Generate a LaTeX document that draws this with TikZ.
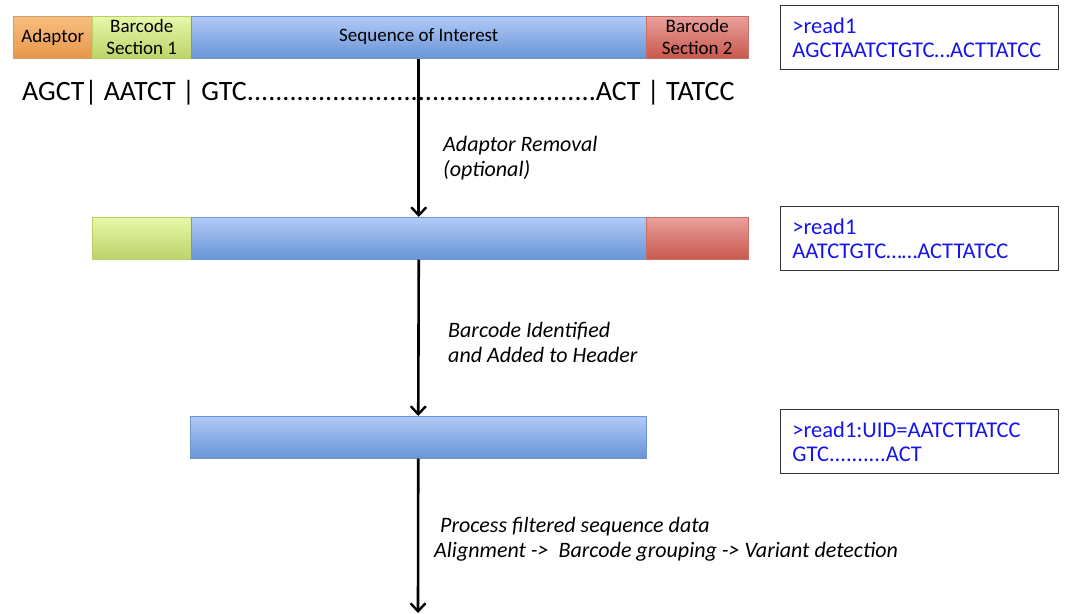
\documentclass[tikz,border=0pt]{standalone}
\usepackage{fontspec}
\setmainfont{Carlito}
\usetikzlibrary{arrows.meta,shadows}
\definecolor{boxblue}{RGB}{20,20,235}
\tikzset{
  x=1pt,y=-1pt,
  bar/.style={draw=#1!70!black!60, line width=0.5pt, anchor=north west, minimum height=42pt,
     inner sep=0pt, align=center, font=\fontsize{19}{22}\selectfont,
     drop shadow={shadow xshift=0.6pt,shadow yshift=-1.2pt,opacity=0.25,fill=black}},
  ad/.style={bar=orange, top color={rgb,255:red,247;green,190;blue,128}, bottom color={rgb,255:red,232;green,150;blue,75}},
  bcone/.style={bar=lime, top color={rgb,255:red,232;green,247;blue,170}, bottom color={rgb,255:red,190;green,210;blue,105}},
  seq/.style={bar=blue, draw={rgb,255:red,110;green,150;blue,210}, top color={rgb,255:red,178;green,202;blue,247}, bottom color={rgb,255:red,104;green,148;blue,214}},
  bctwo/.style={bar=red, draw={rgb,255:red,200;green,110;blue,100}, top color={rgb,255:red,234;green,160;blue,155}, bottom color={rgb,255:red,200;green,88;blue,78}},
  readbox/.style={draw=black!80, line width=0.9pt, anchor=north west, minimum width=278pt, minimum height=64pt,
     text width=254pt, inner xsep=12pt, align=left, text=boxblue, font=\fontsize{22.5}{24}\selectfont},
  steplabel/.style={anchor=base west, inner sep=0pt, align=left, font=\fontsize{22}{25}\selectfont\itshape},
  arr/.style={line width=2.6pt, -{Straight Barb[length=8pt,width=15pt,line width=2.4pt]}}
}
\begin{document}
\begin{tikzpicture}
\useasboundingbox (0,0) rectangle (1067,613);
% top bar
\node[ad, minimum width=79pt] (ad1) at (13,16) {Adaptor};
\node[bcone, minimum width=99pt] (bc1) at (92,16) {Barcode\\Section 1};
\node[seq, minimum width=455pt] (seq1) at (191,16) {\raisebox{5pt}{Sequence of Interest}};
\node[bctwo, minimum width=102pt] (bd1) at (646,16) {Barcode\\Section 2};
\node[anchor=base west, inner sep=0pt, font=\fontsize{28}{30}\selectfont] (seqtext) at (22,100)
  {\makebox[713pt][s]{AGCT| AATCT | GTC\xleaders\hbox{.}\hfill ACT | TATCC}};
% second bar
\node[bcone, minimum width=99pt] (bc2) at (92,217) {};
\node[seq, minimum width=455pt] (seq2) at (191,217) {};
\node[bctwo, minimum width=102pt] (bd2) at (646,217) {};
% third bar
\node[seq, minimum width=456pt] (seq3) at (190,416) {};
\coordinate (endpt) at (418,613);
% arrows
\draw[arr] (seq1.south) -- (seq2.north);
\draw[arr] (seq2.south) -- (seq3.north);
\draw[arr] (seq3.south) -- (endpt);
% labels
\node[steplabel] (l1) at (443,176) {Adaptor Removal\\(optional)};
\node[steplabel] (l2) at (448,362) {Barcode Identified\\and Added to Header};
\node[steplabel] (l3) at (434,557) {\hspace*{6pt}Process filtered sequence data\\Alignment -> \ Barcode grouping -> Variant detection};
% read boxes
\node[readbox] (r1) at (780,5) {>read1\\AGCTAATCTGTC…ACTTATCC};
\node[readbox] (r2) at (780,206) {>read1\\AATCTGTC……ACTTATCC};
\node[readbox] (r3) at (780,409) {>read1:UID=AATCTTATCC\\GTC..........ACT};
\end{tikzpicture}
\end{document}
